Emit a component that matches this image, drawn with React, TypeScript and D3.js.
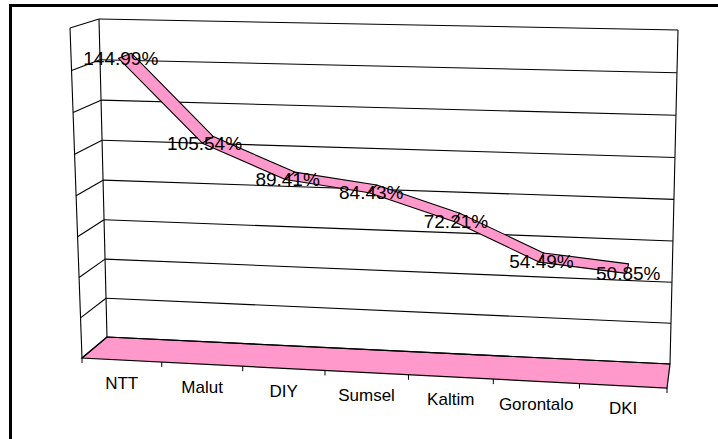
import React from 'react';
import * as d3 from 'd3';

// province names along the category axis
const categories = ['NTT', 'Malut', 'DIY', 'Sumsel', 'Kaltim', 'Gorontalo', 'DKI'];
// series values (fractions, shown as percentages)
const values = [1.4499, 1.0554, 0.8941, 0.8443, 0.7221, 0.5449, 0.5085];
// value axis range
const valueDomain = [0, 1.6];

const W = 718, H = 439;
const pink = '#FF99CC';

// corners of the back wall and the front plane as seen on screen
// order: bottom-left, bottom-right, top-right, top-left
const backQuad = [[107, 337], [670, 364], [678, 30], [99, 19]];
const frontQuad = [[82, 358], [667, 388], [675, 40], [70, 28]];

// unit square -> quad (projective)
const squareToQuad = (q) => {
	const [[x0, y0], [x1, y1], [x2, y2], [x3, y3]] = q;
	const dx1 = x1 - x2, dx2 = x3 - x2, dx3 = x0 - x1 + x2 - x3;
	const dy1 = y1 - y2, dy2 = y3 - y2, dy3 = y0 - y1 + y2 - y3;
	const den = dx1 * dy2 - dx2 * dy1;
	const g = (dx3 * dy2 - dx2 * dy3) / den;
	const h = (dx1 * dy3 - dx3 * dy1) / den;
	const a = x1 - x0 + g * x1, b = x3 - x0 + h * x3, c = x0;
	const d = y1 - y0 + g * y1, e = y3 - y0 + h * y3, f = y0;
	return (u, v) => {
		const z = g * u + h * v + 1;
		return [(a * u + b * v + c) / z, (d * u + e * v + f) / z];
	};
};

const back = squareToQuad(backQuad);
const front = squareToQuad(frontQuad);

// u: category position 0..1, v: value position 0..1, w: depth 0 (back) .. 1 (front)
const project = (u, v, w) => {
	const p = back(u, v), q = front(u, v);
	return [p[0] + (q[0] - p[0]) * w, p[1] + (q[1] - p[1]) * w];
};

const App = () => {
	const x = d3.scaleBand().domain(categories).range([0, 1]);
	const y = d3.scaleLinear().domain(valueDomain).range([0, 1]);
	const cx = (c) => x(c) + x.bandwidth() / 2;
	const fmt = d3.format('.2%');
	const poly = d3.line().curve(d3.curveLinearClosed);
	const gridTicks = y.ticks(8);

	// ribbon depth span
	const w1 = 0.28, w2 = 0.76;

	const floor = [project(0, 0, 0), project(1, 0, 0), project(1, 0, 1), project(0, 0, 1)];

	const segments = values.slice(1).map((v, i) => {
		const a = categories[i], b = categories[i + 1];
		const va = y(values[i]), vb = y(v);
		return [
			project(cx(a), va, w1), project(cx(b), vb, w1),
			project(cx(b), vb, w2), project(cx(a), va, w2)
		];
	});

	const catTicks = d3.range(categories.length + 1).map((i) => i / categories.length);

	return (
		<svg width={W} height={H} style={{ position: 'absolute', left: 0, top: 0, background: '#fff' }}
			fontFamily="'Liberation Sans', Arial, sans-serif">
			{/* floor */}
			<path d={poly(floor)} fill={pink} stroke="#000" strokeWidth={1.2} />

			{/* back wall gridlines */}
			{gridTicks.map((t) => {
				const p = project(0, y(t), 0), q = project(1, y(t), 0);
				return <line key={'b' + t} x1={p[0]} y1={p[1]} x2={q[0]} y2={q[1]} stroke="#000" strokeWidth={1.1} />;
			})}
			{/* side wall gridlines */}
			{gridTicks.map((t) => {
				const p = project(0, y(t), 0), q = project(0, y(t), 1);
				return <line key={'s' + t} x1={p[0]} y1={p[1]} x2={q[0]} y2={q[1]} stroke="#000" strokeWidth={1.1} />;
			})}
			{/* wall edges */}
			{[[[0, 0, 0], [0, 1, 0]], [[0, 0, 1], [0, 1, 1]], [[1, 0, 0], [1, 1, 0]]].map(([s, e], i) => {
				const p = project(s[0], s[1], s[2]), q = project(e[0], e[1], e[2]);
				return <line key={'e' + i} x1={p[0]} y1={p[1]} x2={q[0]} y2={q[1]} stroke="#000" strokeWidth={1.1} />;
			})}

			{/* category tick marks on the front edge */}
			{catTicks.map((u, i) => {
				const p = project(u, 0, 1);
				return <line key={'t' + i} x1={p[0]} y1={p[1]} x2={p[0]} y2={p[1] + 5} stroke="#000" strokeWidth={1} />;
			})}

			{/* ribbon */}
			{segments.map((s, i) => (
				<path key={'r' + i} d={poly(s)} fill={pink} stroke="#000" strokeWidth={1.1} strokeLinejoin="round" />
			))}

			{/* data labels */}
			{values.map((v, i) => {
				const p = project(cx(categories[i]), y(v), 0.75);
				return (
					<text key={'l' + i} x={p[0] + 2} y={p[1]} fontSize={19} textAnchor="middle" dominantBaseline="central" fill="#000">
						{fmt(v)}
					</text>
				);
			})}

			{/* category labels */}
			{categories.map((c) => {
				const p = project(cx(c), 0, 1);
				return (
					<text key={c} x={p[0]} y={p[1] + 23} fontSize={17} textAnchor="middle" dominantBaseline="central" fill="#000">
						{c}
					</text>
				);
			})}

			{/* outer frame */}
			<rect x={10.5} y={5.5} width={W + 20} height={H + 20} fill="none" stroke="#000" strokeWidth={3} />
		</svg>
	);
};

export default App;
